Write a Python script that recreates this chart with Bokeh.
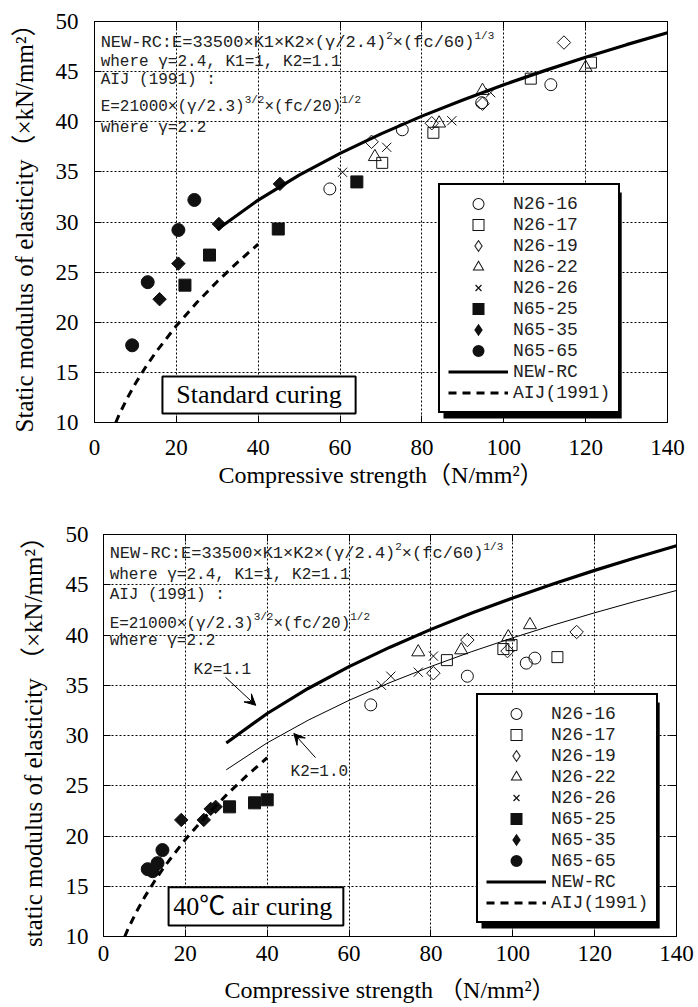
import math
from bokeh.plotting import figure
from bokeh.layouts import column, row
from bokeh.models import (LinearAxis, FixedTicker, Legend, LegendItem, BoxAnnotation,
                          Label, Arrow, VeeHead, Range1d)
from bokeh.embed import file_html
from bokeh.resources import INLINE

# ------------------------------------------------------------------ data
x_ticks = [0, 20, 40, 60, 80, 100, 120, 140]
y_ticks = [10, 15, 20, 25, 30, 35, 40, 45, 50]
series_names = ["N26-16", "N26-17", "N26-19", "N26-22", "N26-26", "N65-25", "N65-35", "N65-65"]

# Standard curing
std_n26_16_x = [57.5, 75.2, 94.6, 111.5]
std_n26_16_y = [33.3, 39.2, 41.9, 43.7]
std_n26_17_x = [70.3, 82.8, 106.6, 121.3]
std_n26_17_y = [35.9, 38.9, 44.3, 45.9]
std_n26_19_x = [67.7, 82.4, 94.8, 114.7]
std_n26_19_y = [38.0, 39.85, 41.8, 47.9]
std_n26_22_x = [68.5, 84.2, 94.8, 120.0]
std_n26_22_y = [36.5, 39.85, 43.1, 45.4]
std_n26_26_x = [60.6, 71.4, 87.3, 96.8]
std_n26_26_y = [34.96, 37.45, 40.1, 42.9]
std_n65_25_x = [22.1, 28.1, 44.9, 64.1]
std_n65_25_y = [23.7, 26.7, 29.3, 34.0]
std_n65_35_x = [15.9, 20.5, 30.4, 45.3]
std_n65_35_y = [22.3, 25.85, 29.8, 33.8]
std_n65_65_x = [9.2, 13.0, 20.5, 24.4]
std_n65_65_y = [17.7, 24.0, 29.2, 32.2]

# 40 C air curing
air_n26_16_x = [65.3, 88.9, 103.3, 105.4]
air_n26_16_y = [33.05, 35.9, 37.2, 37.7]
air_n26_17_x = [83.9, 97.7, 99.7, 110.9]
air_n26_17_y = [37.5, 38.6, 39.0, 37.8]
air_n26_19_x = [80.6, 88.9, 98.7, 115.6]
air_n26_19_y = [36.2, 39.5, 38.4, 40.3]
air_n26_22_x = [76.9, 87.4, 98.9, 104.2]
air_n26_22_y = [38.3, 38.5, 39.8, 41.0]
air_n26_26_x = [67.9, 70.2, 76.9, 80.6]
air_n26_26_y = [35.0, 35.9, 36.3, 37.9]
air_n65_25_x = [30.8, 36.9, 40.0]
air_n65_25_y = [22.9, 23.3, 23.6]
air_n65_35_x = [19.0, 24.5, 26.2, 27.4]
air_n65_35_y = [21.6, 21.6, 22.7, 22.9]
air_n65_65_x = [10.8, 12.0, 13.2, 14.4]
air_n65_65_y = [16.7, 16.5, 17.3, 18.6]

# design curves
newrc_x = [30, 40, 50, 60, 70, 80, 90, 100, 110, 120, 130, 140]
newrc_k11_y = [29.25, 32.19, 34.68, 36.85, 38.79, 40.56, 42.18, 43.69, 45.10, 46.43, 47.69, 48.88]
newrc_k10_y = [26.59, 29.27, 31.52, 33.50, 35.27, 36.87, 38.35, 39.72, 41.00, 42.21, 43.35, 44.43]
aij_x = [5.2, 6, 8, 10, 12.5, 15, 20, 25, 30, 35, 40]
aij_y = [10.0, 10.76, 12.43, 13.89, 15.53, 17.02, 19.65, 21.97, 24.07, 26.0, 27.79]

std_data = {
    "N26-16": (std_n26_16_x, std_n26_16_y), "N26-17": (std_n26_17_x, std_n26_17_y),
    "N26-19": (std_n26_19_x, std_n26_19_y), "N26-22": (std_n26_22_x, std_n26_22_y),
    "N26-26": (std_n26_26_x, std_n26_26_y), "N65-25": (std_n65_25_x, std_n65_25_y),
    "N65-35": (std_n65_35_x, std_n65_35_y), "N65-65": (std_n65_65_x, std_n65_65_y),
}
air_data = {
    "N26-16": (air_n26_16_x, air_n26_16_y), "N26-17": (air_n26_17_x, air_n26_17_y),
    "N26-19": (air_n26_19_x, air_n26_19_y), "N26-22": (air_n26_22_x, air_n26_22_y),
    "N26-26": (air_n26_26_x, air_n26_26_y), "N65-25": (air_n65_25_x, air_n65_25_y),
    "N65-35": (air_n65_35_x, air_n65_35_y), "N65-65": (air_n65_65_x, air_n65_65_y),
}

# ------------------------------------------------------------------ styles
INK = "#111111"
NAN = float("nan")
STYLE = {
    "N26-16": dict(marker="circle", size=12, angle=0, fill_color=None, legend="circle"),
    "N26-17": dict(marker="square", size=11, angle=0, fill_color=None, legend="square"),
    "N26-19": dict(marker="square", size=9.5, angle=math.pi / 4, fill_color=None, legend="diamond"),
    "N26-22": dict(marker="triangle", size=13, angle=0, fill_color=None, legend="triangle"),
    "N26-26": dict(marker="x", size=13, angle=0, fill_color=None, legend="x"),
    "N65-25": dict(marker="square", size=12, angle=0, fill_color=INK, legend="square"),
    "N65-35": dict(marker="square", size=9.5, angle=math.pi / 4, fill_color=INK, legend="diamond"),
    "N65-65": dict(marker="circle", size=13, angle=0, fill_color=INK, legend="circle"),
}
# outline widths used to enlarge the legend swatches (outer, inner)
LEGEND_LW = {"circle": (3.6, 1.6), "square": (3.6, 1.6), "triangle": (2.0, 0.0), "diamond": (2.4, 0.4)}

W = 698
SERIF = "Liberation Serif"
MONO = "Liberation Mono"
TXT = "#222222"

LEG_PAD, LEG_GW, LEG_GH, LEG_STAND, LEG_FS = 8, 60, 21, 5, 18


def make_fig(width, height, bl, br, bt, bb, ylabel, xlabel, xl_stand, xa_stand, yl_stand, ya_stand):
    p = figure(width=width, height=height, x_range=Range1d(0, 140), y_range=Range1d(10, 50),
               output_backend="svg", toolbar_location=None,
               min_border_left=bl, min_border_right=br, min_border_top=bt, min_border_bottom=bb,
               x_axis_label=xlabel, y_axis_label=ylabel)
    p.outline_line_color = "black"
    p.outline_line_width = 1
    p.outline_line_alpha = 1
    p.background_fill_color = "white"
    p.border_fill_color = "white"
    for ax, ticks, ls, las, lfs in ((p.xaxis[0], x_ticks, xl_stand, xa_stand, "24px"),
                                    (p.yaxis[0], y_ticks, yl_stand, ya_stand, "25px")):
        ax.ticker = FixedTicker(ticks=ticks)
        ax.major_tick_in = 7
        ax.major_tick_out = 0
        ax.minor_tick_line_color = None
        ax.axis_line_color = "black"
        ax.major_tick_line_color = "black"
        ax.major_label_text_font = SERIF
        ax.major_label_text_font_size = "23px"
        ax.major_label_text_color = "black"
        ax.axis_label_text_font = f"{SERIF}, 'Noto Sans CJK JP'"
        ax.axis_label_text_font_size = lfs
        ax.axis_label_text_font_style = "normal"
        ax.axis_label_text_color = "black"
        ax.major_label_standoff = ls
        ax.axis_label_standoff = las
    p.xgrid.ticker = FixedTicker(ticks=x_ticks)
    p.ygrid.ticker = FixedTicker(ticks=y_ticks)
    p.grid.grid_line_color = "black"
    p.grid.grid_line_dash = "2 2"
    p.grid.grid_line_width = 1
    p.grid.grid_line_alpha = 1
    top_ax = LinearAxis(ticker=FixedTicker(ticks=x_ticks), major_tick_in=7, major_tick_out=0,
                        minor_tick_line_color=None, major_label_standoff=0,
                        major_label_overrides={t: "" for t in x_ticks}, major_label_text_font_size="8px")
    right_ax = LinearAxis(ticker=FixedTicker(ticks=y_ticks), major_tick_in=7, major_tick_out=0,
                          minor_tick_line_color=None, major_label_standoff=0,
                          major_label_overrides={t: "" for t in y_ticks}, major_label_text_font_size="8px")
    p.add_layout(top_ax, "above")
    p.add_layout(right_ax, "right")
    return p


def add_formula(p, x, y, segments):
    off = 0.0
    for text, size, rise in segments:
        p.add_layout(Label(x=x, y=y, x_offset=off, y_offset=rise, text=text,
                           text_font=MONO, text_font_size=f"{size}px", text_color=TXT,
                           text_baseline="middle", text_align="left"))
        off += len(text) * 0.6 * size


def add_formulas(p, x, ys, where_text):
    add_formula(p, x, ys[0], [("NEW-RC:E=33500×K1×K2×(γ/2.4)", 17, 0), ("2", 11, 7),
                              ("×(fc/60)", 17, 0), ("1/3", 11, 7)])
    add_formula(p, x, ys[1], [(where_text, 16, 0)])
    add_formula(p, x, ys[2], [("AIJ (1991) :", 16, 0)])
    add_formula(p, x, ys[3], [("E=21000×(γ/2.3)", 16, 0), ("3/2", 11, 7),
                              ("×(fc/20)", 16, 0), ("1/2", 11, 7)])
    add_formula(p, x, ys[4], [("where γ=2.2", 16, 0)])


def legend_swatch(p, name):
    """Renderers without visible points, used only to draw the legend swatch."""
    st = STYLE[name]
    lm = st["legend"]
    if lm == "x":
        return [p.scatter([NAN], [NAN], marker="x", line_color=INK, line_width=1.2)]
    lw_out, lw_in = LEGEND_LW[lm]
    outer = p.scatter([NAN], [NAN], marker=lm, fill_color=INK, line_color=INK,
                      line_width=lw_out, line_join="miter")
    if st["fill_color"] is not None:
        return [outer]
    inner = p.scatter([NAN], [NAN], marker=lm, fill_color="white",
                      line_color="white" if lw_in > 0 else None, line_width=max(lw_in, 0.1),
                      line_join="miter")
    return [outer, inner]


def add_series(p, data, thick_y, thin_y=None):
    items = []
    for name in series_names:
        xs, ys = data[name]
        st = STYLE[name]
        p.scatter(xs, ys, marker=st["marker"], size=st["size"], angle=st["angle"],
                  fill_color=st["fill_color"], line_color=INK, line_width=1)
        items.append(LegendItem(label=name, renderers=legend_swatch(p, name)))
    r_nrc = p.line(newrc_x, thick_y, line_width=3.2, line_color="black")
    if thin_y is not None:
        p.line(newrc_x, thin_y, line_width=1, line_color="black")
    r_aij = p.line(aij_x, aij_y, line_width=3, line_color="black", line_dash="8 6")
    items.append(LegendItem(label="NEW-RC", renderers=[r_nrc]))
    items.append(LegendItem(label="AIJ(1991)", renderers=[r_aij]))
    return items


def add_legend(p, items, loc, fw, fh):
    n = len(items)
    lw = 2 * LEG_PAD + LEG_GW + LEG_STAND + 9 * 0.6 * LEG_FS
    lh = 2 * LEG_PAD + n * LEG_GH
    sh = 5
    sx0, sy0 = loc[0] + sh, loc[1] - sh
    p.add_layout(BoxAnnotation(left=sx0 * 140 / fw, right=(sx0 + lw) * 140 / fw,
                               bottom=10 + sy0 * 40 / fh, top=10 + (sy0 + lh) * 40 / fh,
                               fill_color="black", fill_alpha=1, line_color=None))
    leg = Legend(items=items, location=loc, margin=0, padding=LEG_PAD,
                 glyph_width=LEG_GW, glyph_height=LEG_GH, spacing=0, label_height=LEG_GH,
                 label_standoff=LEG_STAND, label_text_font=MONO, label_text_font_size=f"{LEG_FS}px",
                 label_text_color=TXT, border_line_color="black", border_line_width=2,
                 border_line_alpha=1, background_fill_color="white", background_fill_alpha=1)
    p.add_layout(leg)


def add_boxed_label(p, left, right, bottom, top, text):
    p.add_layout(BoxAnnotation(left=left, right=right, bottom=bottom, top=top,
                               fill_color="white", fill_alpha=1, line_color="black",
                               line_alpha=1, line_width=2))
    p.add_layout(Label(x=(left + right) / 2, y=(bottom + top) / 2, text=text,
                       text_font=f"{SERIF}, 'Noto Sans CJK JP'", text_font_size="26px",
                       text_color="black", text_align="center", text_baseline="middle"))


# ------------------------------------------------------------------ top chart
H1, BL1, BR1, BT1, BB1 = 500, 94, 31, 21, 78
p1 = make_fig(W, H1, BL1, BR1, BT1, BB1, "Static modulus of elasticity（×kN/mm²）",
              "Compressive strength（N/mm²）", 17, 4, 16, 15)
items1 = add_series(p1, std_data, newrc_k11_y)
add_formulas(p1, 1.5, [47.9, 46.0, 44.2, 41.5, 39.4], "where  γ=2.4, K1=1, K2=1.1")
add_boxed_label(p1, 16.6, 63.8, 10.9, 14.6, "Standard curing")
add_legend(p1, items1, (344, 9), W - BL1 - BR1, H1 - BT1 - BB1)

# ------------------------------------------------------------------ bottom chart
H2, BL2, BR2, BT2, BB2 = 507, 103, 22, 34, 71
p2 = make_fig(W, H2, BL2, BR2, BT2, BB2, "static modulus of elasticity （×kN/mm²）",
              "Compressive strength （N/mm²）", 9, 13, 15, 16)
items2 = add_series(p2, air_data, newrc_k11_y, newrc_k10_y)
add_formulas(p2, 1.5, [48.1, 46.0, 44.0, 41.1, 39.45], "where γ=2.4, K1=1, K2=1.1")
add_boxed_label(p2, 15.9, 58.6, 11.1, 14.9, "40℃  air curing")
p2.add_layout(Label(x=22.0, y=36.5, text="K2=1.1", text_font=MONO, text_font_size="16px",
                    text_color=TXT, text_baseline="middle", text_align="left"))
p2.add_layout(Label(x=45.7, y=26.4, text="K2=1.0", text_font=MONO, text_font_size="16px",
                    text_color=TXT, text_baseline="middle", text_align="left"))
p2.add_layout(Arrow(end=VeeHead(size=11, fill_color="black", line_color="black", line_width=1),
                    x_start=29.8, y_start=35.8, x_end=37.2, y_end=33.0, line_width=1, line_color="black"))
p2.add_layout(Arrow(end=VeeHead(size=11, fill_color="black", line_color="black", line_width=1),
                    x_start=51.8, y_start=27.8, x_end=46.5, y_end=30.2, line_width=1, line_color="black"))
add_legend(p2, items2, (373, 13), W - BL2 - BR2, H2 - BT2 - BB2)

layout = column(row(p1), row(p2), spacing=0)
open("out.html", "w").write(file_html(layout, INLINE))
